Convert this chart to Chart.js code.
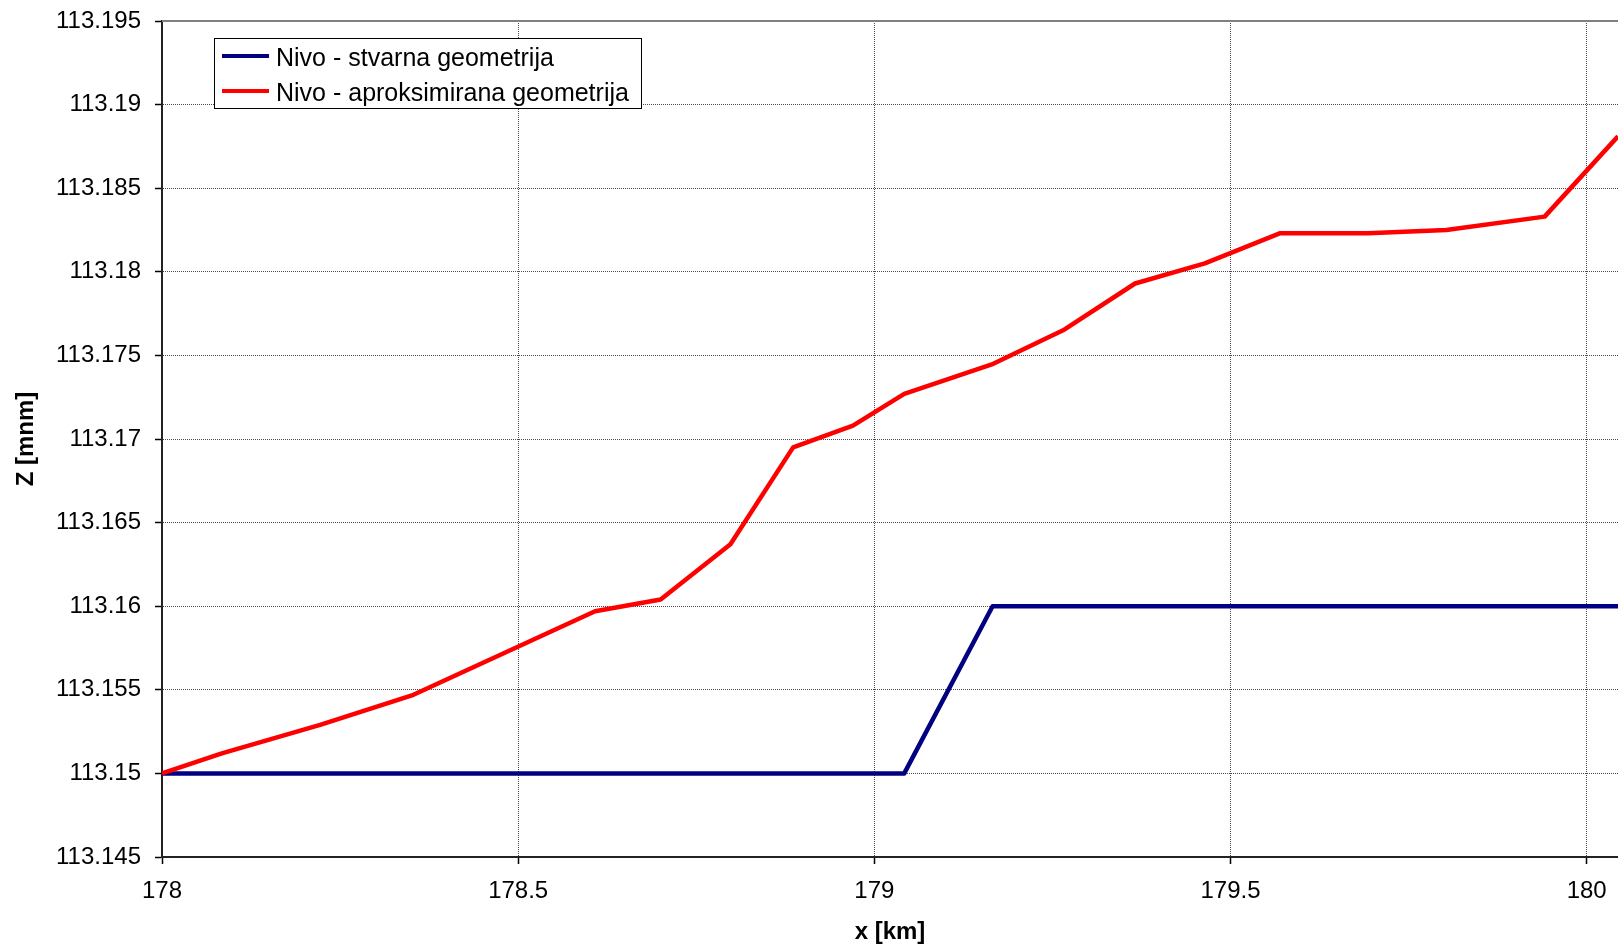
<!DOCTYPE html>
<html>
<head>
<meta charset="utf-8">
<script src="https://cdn.jsdelivr.net/npm/chart.js@4.4.0/dist/chart.umd.min.js"></script>
<style>
  html, body { margin: 0; padding: 0; background: #fff; }
  canvas { display: block; }
</style>
</head>
<body>
<canvas id="nivoChart" width="1618" height="944"></canvas>
<script>
// stvarna geometrija (step)
const stvarnaX = [178, 179.042, 179.166, 180.044];
const stvarnaZ = [113.15, 113.15, 113.16, 113.16];

// aproksimirana geometrija
const aproksX = [178, 178.084, 178.222, 178.353, 178.608, 178.700, 178.798, 178.886, 178.970, 179.042,
                 179.167, 179.265, 179.366, 179.464, 179.569, 179.693, 179.803, 179.941, 180.044];
const aproksZ = [113.15, 113.1512, 113.1529, 113.1547, 113.1597, 113.1604, 113.1637, 113.1695, 113.1708, 113.1727,
                 113.1745, 113.1765, 113.1793, 113.1805, 113.1823, 113.1823, 113.1825, 113.1833, 113.1881];

const seriesNames = ['Nivo - stvarna geometrija', 'Nivo - aproksimirana geometrija'];
const seriesColors = ['#000080', '#ff0000'];

const xRange = [178, 180.044];
const zRange = [113.145, 113.195];
const xStep = 0.5;
const zStep = 0.005;

const FONT = '"Liberation Sans", Arial, sans-serif';

const toPoints = (xs, ys) => xs.map((x, i) => ({ x: x, y: ys[i] }));

// plot-area top border + boxed legend inside the plot
const plotFrame = {
  id: 'plotFrame',
  afterDraw(chart) {
    const ctx = chart.ctx;
    const area = chart.chartArea;
    ctx.save();
    ctx.strokeStyle = '#808080';
    ctx.lineWidth = 2;
    ctx.beginPath();
    ctx.moveTo(area.left, area.top);
    ctx.lineTo(area.right, area.top);
    ctx.stroke();

    const x0 = Math.round(area.left + 52);
    const y0 = Math.round(area.top + 17);
    ctx.font = '25px ' + FONT;
    const sets = chart.data.datasets;
    let w = 0;
    sets.forEach(d => { w = Math.max(w, ctx.measureText(d.label).width); });
    const boxW = Math.round(8 + 47 + 7 + w + 12);
    const boxH = 70;
    ctx.fillStyle = '#fff';
    ctx.fillRect(x0, y0, boxW, boxH);
    ctx.strokeStyle = '#000';
    ctx.lineWidth = 1;
    ctx.strokeRect(x0 + 0.5, y0 + 0.5, boxW, boxH);
    sets.forEach((d, i) => {
      const cy = y0 + 18 + i * 35;
      ctx.strokeStyle = d.borderColor;
      ctx.lineWidth = 4;
      ctx.beginPath();
      ctx.moveTo(x0 + 8, cy);
      ctx.lineTo(x0 + 55, cy);
      ctx.stroke();
      ctx.fillStyle = '#000';
      ctx.textAlign = 'left';
      ctx.textBaseline = 'middle';
      ctx.fillText(d.label, x0 + 62, cy + 3);
    });
    ctx.restore();
  }
};

const gridOpts = {
  color: '#4a4a4a',
  lineWidth: 1,
  tickLength: 7,
  tickColor: '#000',
  tickWidth: 1.5,
  tickBorderDash: []
};

new Chart(document.getElementById('nivoChart').getContext('2d'), {
  type: 'line',
  data: {
    datasets: [
      {
        label: seriesNames[0],
        data: toPoints(stvarnaX, stvarnaZ),
        borderColor: seriesColors[0],
        backgroundColor: seriesColors[0],
        borderWidth: 4.5,
        pointRadius: 0,
        tension: 0,
        borderJoinStyle: 'round',
        order: 1
      },
      {
        label: seriesNames[1],
        data: toPoints(aproksX, aproksZ),
        borderColor: seriesColors[1],
        backgroundColor: seriesColors[1],
        borderWidth: 4.5,
        pointRadius: 0,
        tension: 0,
        borderJoinStyle: 'round',
        order: 0
      }
    ]
  },
  options: {
    responsive: false,
    animation: false,
    events: [],
    layout: { padding: { top: 21, right: 0, bottom: 0, left: 0 } },
    plugins: {
      legend: { display: false },
      tooltip: { enabled: false }
    },
    scales: {
      x: {
        type: 'linear',
        min: xRange[0],
        max: xRange[1],
        afterFit(s) { s.height = 87; s.paddingLeft = 0; s.paddingRight = 0; },
        ticks: {
          stepSize: xStep,
          includeBounds: false,
          maxRotation: 0,
          padding: 13,
          color: '#000',
          font: { family: FONT, size: 24 },
          callback: v => String(+v.toFixed(1))
        },
        grid: gridOpts,
        border: { color: '#222', width: 2, dash: [1, 1] },
        title: {
          display: true,
          text: 'x [km]',
          color: '#000',
          font: { family: FONT, size: 24, weight: 'bold' },
          padding: { top: 0, bottom: -3 }
        }
      },
      y: {
        type: 'linear',
        min: zRange[0],
        max: zRange[1],
        afterFit(s) { s.width = 162; s.paddingTop = 0; s.paddingBottom = 0; },
        ticks: {
          stepSize: zStep,
          padding: 14,
          color: '#000',
          font: { family: FONT, size: 24 },
          callback: v => String(+v.toFixed(3))
        },
        grid: gridOpts,
        border: { color: '#222', width: 2, dash: [1, 1] },
        title: {
          display: true,
          text: 'Z [mnm]',
          color: '#000',
          font: { family: FONT, size: 24, weight: 'bold' },
          padding: { top: 12, bottom: 0 }
        }
      }
    }
  },
  plugins: [plotFrame]
});
</script>
</body>
</html>
